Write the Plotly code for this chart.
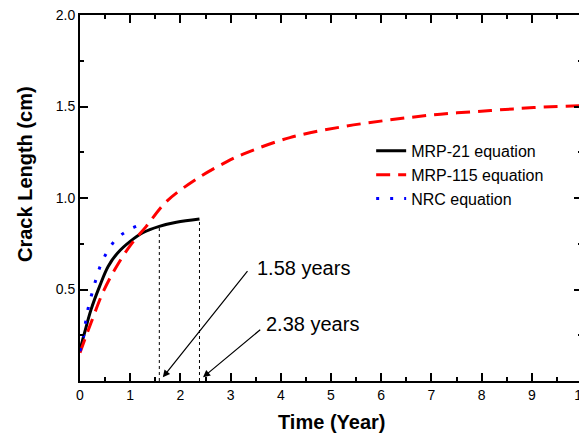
import plotly.graph_objects as go

# --- data ---
t_mrp21 = [0, 0.09, 0.22, 0.39, 0.56, 0.75, 1.0, 1.25, 1.58, 1.92, 2.38]
y_mrp21 = [0.17, 0.263, 0.39, 0.517, 0.626, 0.70, 0.763, 0.81, 0.845, 0.867, 0.885]

t_mrp115 = [0, 0.22, 0.45, 0.69, 1.0, 1.32, 1.72, 2.3, 2.9, 3.25, 4.18, 5.18, 6.18, 7.18, 8.18, 9.04, 10]
y_mrp115 = [0.155, 0.318, 0.48, 0.608, 0.74, 0.845, 0.98, 1.10, 1.195, 1.24, 1.33, 1.387, 1.427, 1.458, 1.478, 1.494, 1.505]

t_nrc = [0, 0.07, 0.11, 0.16, 0.23, 0.31, 0.40, 0.53, 0.73, 1.03, 1.31]
y_nrc = [0.163, 0.24, 0.318, 0.394, 0.47, 0.548, 0.625, 0.70, 0.778, 0.834, 0.863]

event_years = [1.58, 2.38]
event_lengths = [0.845, 0.885]

x_ticks = list(range(0, 11))
y_ticks = [0.5, 1.0, 1.5, 2.0]
y_ticktext = ["0.5", "1.0", "1.5", "2.0"]

FONT = "Arial, Liberation Sans, sans-serif"

fig = go.Figure()

fig.add_trace(go.Scatter(x=t_mrp21, y=y_mrp21, mode="lines", name="MRP-21 equation",
                         line=dict(color="black", width=3, shape="spline")))
fig.add_trace(go.Scatter(x=t_mrp115, y=y_mrp115, mode="lines", name="MRP-115 equation",
                         line=dict(color="#ff0000", width=3, dash="14px,8px", shape="spline")))
fig.add_trace(go.Scatter(x=t_nrc, y=y_nrc, mode="lines", name="NRC equation",
                         line=dict(color="#0000ff", width=3, dash="3px,11px", shape="spline")))

for yr, ln in zip(event_years, event_lengths):
    fig.add_trace(go.Scatter(x=[yr, yr], y=[0, ln], mode="lines", showlegend=False,
                             line=dict(color="black", width=1, dash="dot")))

label_pos = [(3.48, 0.62, 3.36, 0.608), (3.67, 0.314, 3.62, 0.287)]
for yr, (tx, ty, ax, ay) in zip(event_years, label_pos):
    fig.add_annotation(x=yr + 0.07, y=0.02, ax=ax, ay=ay, axref="x", ayref="y",
                       xref="x", yref="y", showarrow=True, arrowhead=2, arrowsize=1.2,
                       arrowwidth=1.2, arrowcolor="black", text="")
    fig.add_annotation(x=tx, y=ty, xref="x", yref="y", text=f"{yr} years",
                       showarrow=False, xanchor="left", yanchor="middle",
                       font=dict(family=FONT, size=20, color="black"))

# axis titles placed as annotations (paper coords)
fig.add_annotation(x=-0.11, y=0.565, xref="paper", yref="paper", text="<b>Crack Length (cm)</b>",
                   showarrow=False, textangle=-90, xanchor="center", yanchor="middle",
                   font=dict(family=FONT, size=20, color="black"))
fig.add_annotation(x=0.5, y=-0.111, xref="paper", yref="paper", text="<b>Time (Year)</b>",
                   showarrow=False, xanchor="center", yanchor="middle",
                   font=dict(family=FONT, size=20, color="black"))

axis_common = dict(showline=True, linecolor="black", linewidth=2, mirror="ticks",
                   ticks="inside", ticklen=8, tickwidth=1.5, tickcolor="black",
                   showgrid=False, zeroline=False, automargin=False,
                   ticklabeloverflow="allow",
                   tickfont=dict(family=FONT, size=14, color="black"))

fig.update_xaxes(range=[0, 10], tickvals=x_ticks,
                 minor=dict(dtick=0.5, tick0=0, ticks="inside", ticklen=4, tickwidth=1.5, tickcolor="black"),
                 **axis_common)
fig.update_yaxes(range=[0, 2.0], tickvals=y_ticks, ticktext=y_ticktext,
                 minor=dict(dtick=0.25, tick0=0, ticks="inside", ticklen=4, tickwidth=1.5, tickcolor="black"),
                 **axis_common)

# page body has an 8px default margin; size the figure to fill the rest of the window
fig.update_layout(
    width=579, height=427,
    margin=dict(l=72, r=5, t=7, b=54, autoexpand=False),
    paper_bgcolor="white", plot_bgcolor="white",
    font=dict(family=FONT, color="black"),
    legend=dict(x=0.58, y=0.675, xanchor="left", yanchor="top",
                bgcolor="rgba(0,0,0,0)", font=dict(family=FONT, size=16, color="black"),
                tracegroupgap=0),
)

fig.write_html("out.html")
